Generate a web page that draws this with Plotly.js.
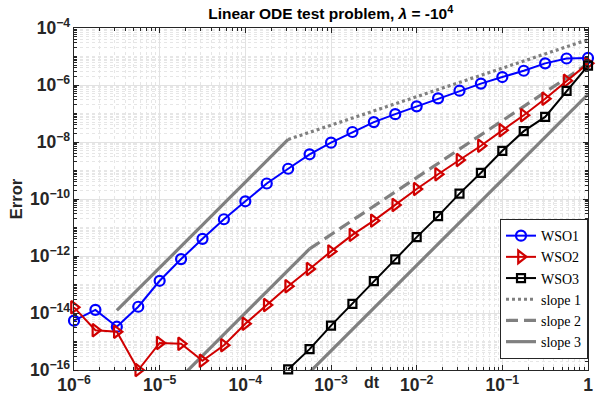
<!DOCTYPE html>
<html>
<head>
<meta charset="utf-8">
<script src="https://cdn.plot.ly/plotly-3.0.1.min.js"></script>
<style>html,body{margin:0;padding:0;background:#fff;}#chart{width:597px;height:402px;}</style>
</head>
<body>
<div id="chart"></div>
<script>
// time steps dt = 10^(-6 + k/4)
const dt = [1e-6, 1.778e-6, 3.162e-6, 5.623e-6, 1e-5, 1.778e-5, 3.162e-5, 5.623e-5,
  1e-4, 1.778e-4, 3.162e-4, 5.623e-4, 1e-3, 1.778e-3, 3.162e-3, 5.623e-3,
  1e-2, 1.778e-2, 3.162e-2, 5.623e-2, 1e-1, 1.778e-1, 3.162e-1, 5.623e-1, 1];

const errWSO1 = [5.4e-15, 1.29e-14, 3.3e-15, 1.66e-14, 1.35e-13, 7.8e-13, 4.0e-12, 1.95e-11,
  8.3e-11, 3.5e-10, 1.15e-9, 3.7e-9, 9.5e-9, 2.24e-8, 5.0e-8, 9.5e-8,
  1.78e-7, 3.4e-7, 6.3e-7, 1.12e-6, 1.9e-6, 3.16e-6, 5.75e-6, 8.5e-6, 8.9e-6];

const errWSO2 = [1.58e-14, 2.5e-15, 2.2e-15, 1.0e-16, 8.9e-16, 8.3e-16, 2.1e-16, 7.4e-16,
  4.2e-15, 1.9e-14, 8.7e-14, 3.5e-13, 1.45e-12, 5.5e-12, 1.74e-11, 6.2e-11,
  2.24e-10, 7.4e-10, 2.34e-9, 7.4e-9, 2.57e-8, 8.7e-8, 3.3e-7, 1.41e-6, 5.75e-6];

const dtWSO3 = dt.slice(10);
const errWSO3 = [1.05e-16, 5.4e-16, 3.6e-15, 2.1e-14, 1.32e-13, 7.6e-13, 4.6e-12, 2.5e-11,
  1.55e-10, 8.3e-10, 4.9e-9, 2.4e-8, 7.6e-8, 6.2e-7, 4.8e-6];

// reference slope lines (end points)
const ref1aX = [3.162e-6, 3.162e-4], ref1aY = [1.23e-14, 1.23e-8];   // slope 3
const ref1bX = [3.162e-4, 1],        ref1bY = [1.23e-8, 3.9e-5];     // slope 1
const ref2aX = [1e-5, 5.623e-4],     ref2aY = [1e-17, 1.78e-12];     // slope 3
const ref2bX = [5.623e-4, 1],        ref2bY = [1.78e-12, 5.6e-6];    // slope 2
const ref3X  = [1e-4, 1],            ref3Y  = [4.7e-19, 4.7e-7];     // slope 3

const gray = '#808080';
const refW = 3.2;

const traces = [
  {x: ref1aX, y: ref1aY, mode: 'lines', line: {color: gray, width: refW}, showlegend: false, hoverinfo: 'skip'},
  {x: ref2aX, y: ref2aY, mode: 'lines', line: {color: gray, width: refW}, showlegend: false, hoverinfo: 'skip'},
  {x: ref1bX, y: ref1bY, mode: 'lines', name: 'slope 1', legendrank: 4, line: {color: gray, width: refW, dash: '3px,3px'}},
  {x: ref2bX, y: ref2bY, mode: 'lines', name: 'slope 2', legendrank: 5, line: {color: gray, width: refW, dash: '12px,6px'}},
  {x: ref3X, y: ref3Y, mode: 'lines', name: 'slope 3', legendrank: 6, line: {color: gray, width: refW}},
  {x: dt, y: errWSO1, mode: 'lines+markers', name: 'WSO1', legendrank: 1, cliponaxis: false,
   line: {color: '#0000ff', width: 2}, marker: {symbol: 'circle-open', size: 10, color: '#0000ff', line: {width: 2.2}}},
  {x: dt, y: errWSO2, mode: 'lines+markers', name: 'WSO2', legendrank: 2, cliponaxis: false,
   line: {color: '#d00000', width: 2}, marker: {symbol: 'triangle-right-open', size: 11, color: '#d00000', line: {width: 2.2}}},
  {x: dtWSO3, y: errWSO3, mode: 'lines+markers', name: 'WSO3', legendrank: 3, cliponaxis: false,
   line: {color: '#000000', width: 2}, marker: {symbol: 'square-open', size: 8, color: '#000000', line: {width: 2.2}}}
];

const tickFont = {family: 'Liberation Sans, Arial, sans-serif', size: 14, color: '#262626', weight: 'bold'};

const axisCommon = {
  type: 'log',
  showline: true, linecolor: '#262626', linewidth: 1, mirror: 'allticks',
  ticks: 'inside', ticklen: 5, tickcolor: '#262626', tickwidth: 1,
  showgrid: true, gridcolor: '#e2e2e2', gridwidth: 1,
  exponentformat: 'power', zeroline: false,
  tickfont: tickFont,
  minor: {dtick: 'D1', ticks: 'inside', ticklen: 3, tickcolor: '#262626', showgrid: true, gridcolor: '#e6e6e6', griddash: 'dot', gridwidth: 1}
};

const layout = {
  width: 597, height: 402,
  margin: {l: 74, r: 9, t: 28, b: 32},
  paper_bgcolor: '#ffffff', plot_bgcolor: '#ffffff',
  showlegend: true,
  title: {text: 'Linear ODE test problem, <i>λ</i> = -10<sup>4</sup>', x: 0.554, xanchor: 'center', y: 0.965, yanchor: 'middle',
          font: {family: 'Liberation Sans, Arial, sans-serif', size: 15.5, color: '#000', weight: 'bold'}},
  xaxis: Object.assign({}, axisCommon, {range: [-6, 0], dtick: 1}),
  yaxis: Object.assign({}, axisCommon, {range: [-16, -4], dtick: 2,
    title: {text: 'Error', standoff: 3, font: {family: 'Liberation Sans, Arial, sans-serif', size: 16.5, color: '#262626', weight: 'bold'}}}),
  legend: {x: 1, xanchor: 'right', y: 0.032, yanchor: 'bottom', bgcolor: '#ffffff', bordercolor: '#262626', borderwidth: 1,
           font: {family: 'Liberation Serif, Times New Roman, serif', size: 14, color: '#000'}, tracegroupgap: 0, itemwidth: 30},
  annotations: [{text: 'dt', xref: 'paper', yref: 'paper', x: 0.58, y: -0.038, xanchor: 'center', yanchor: 'middle', showarrow: false,
                 font: {family: 'Liberation Sans, Arial, sans-serif', size: 16, color: '#262626', weight: 'bold'}}]
};

Plotly.newPlot('chart', traces, layout, {displayModeBar: false, staticPlot: true});
</script>
</body>
</html>
